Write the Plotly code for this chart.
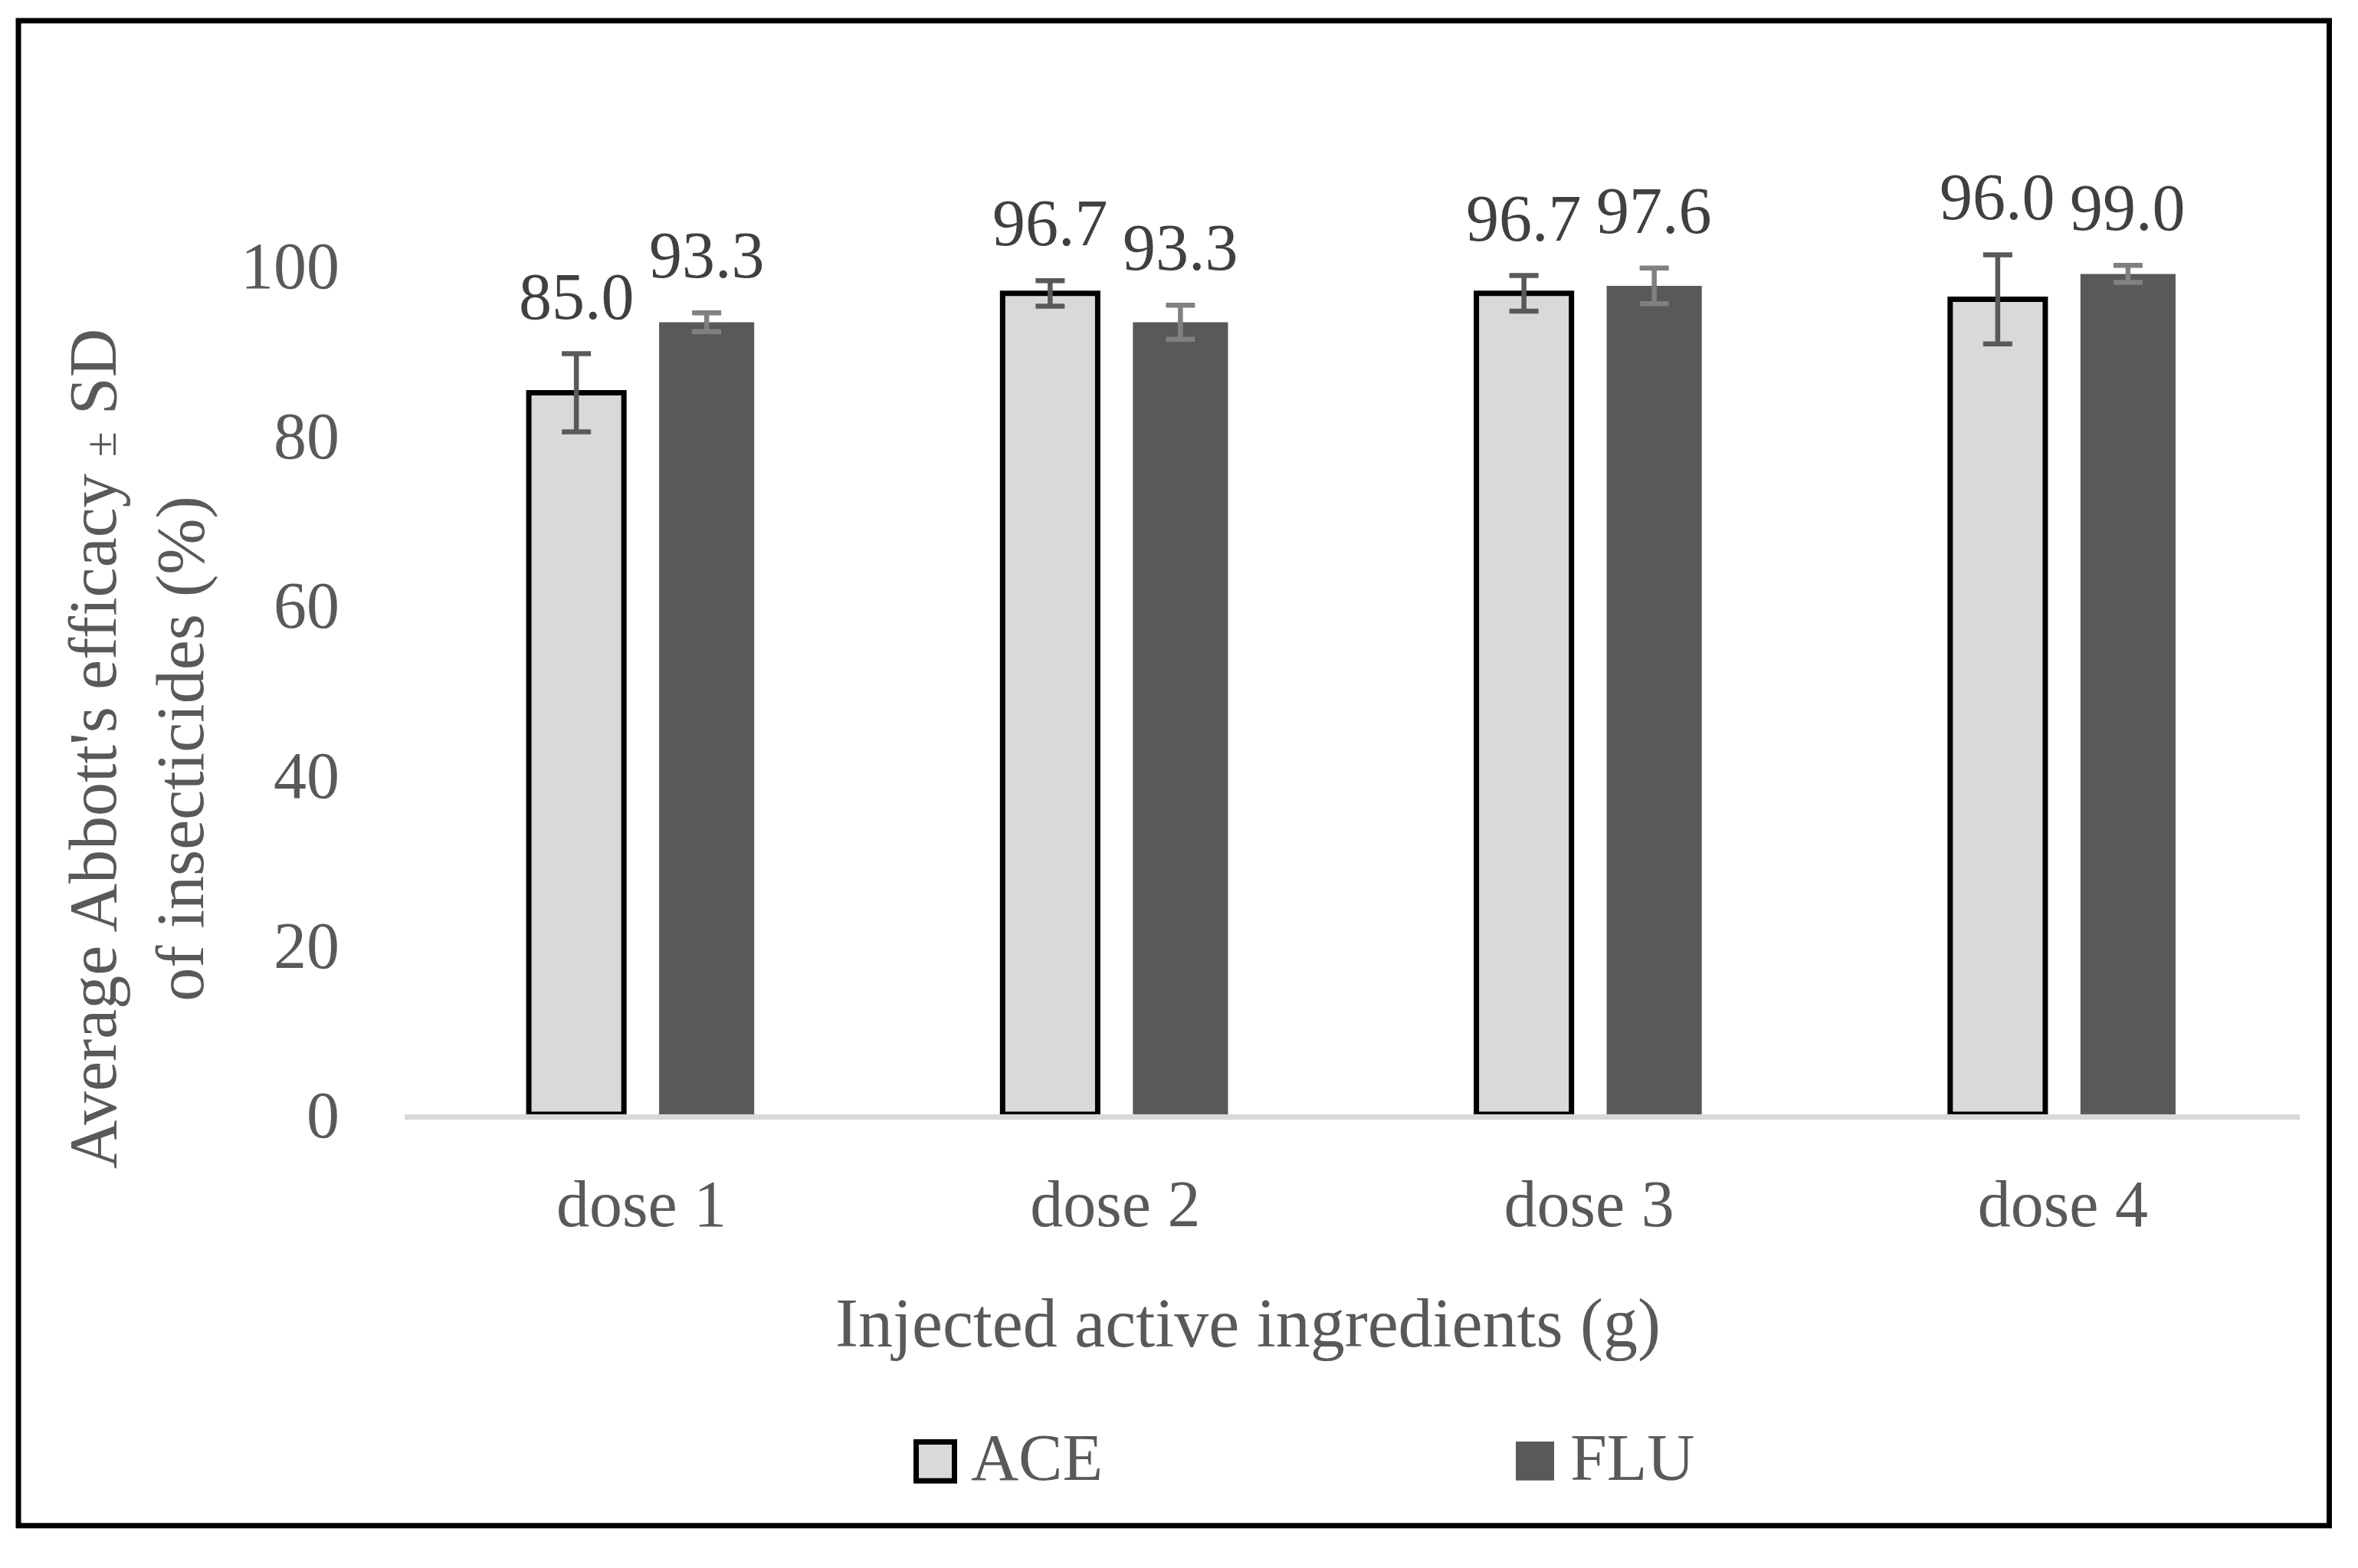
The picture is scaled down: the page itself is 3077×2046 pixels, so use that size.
import plotly.graph_objects as go

# ---- data ----
categories = ["dose 1", "dose 2", "dose 3", "dose 4"]
series_names = ["ACE", "FLU"]
ace_values = [85.0, 96.7, 96.7, 96.0]
flu_values = [93.3, 93.3, 97.6, 99.0]
ace_sd = [4.6, 1.5, 2.1, 5.25]
flu_sd = [1.1, 2.0, 2.1, 1.0]
y_ticks = [0, 20, 40, 60, 80, 100]
x_title = "Injected active ingredients (g)"
y_title_lines = ["Average Abbott's efficacy ± SD", "of insecticides (%)"]

# ---- layout geometry (pixels) ----
W, H = 3077, 2046
Y_MAX = 104
PX_PER_UNIT = 11.08
L, R, B = 528, 3001, 1454
T = B - PX_PER_UNIT * Y_MAX
FONT = "Liberation Serif"
TXT = "#595959"
LBL = "#404040"


def px_x(x):
    return (x - L) / (R - L)


def px_y(y):
    return (B - y) / (B - T)


fig = go.Figure()
fig.add_trace(go.Bar(
    name=series_names[0], x=categories, y=ace_values,
    marker=dict(color="#d9d9d9", line=dict(color="black", width=7)),
    error_y=dict(type="data", array=ace_sd, visible=True, color="#595959",
                 thickness=6.5, width=19),
    cliponaxis=False, showlegend=False,
))
fig.add_trace(go.Bar(
    name=series_names[1], x=categories, y=flu_values,
    marker=dict(color="#595959", line=dict(width=0)),
    error_y=dict(type="data", array=flu_sd, visible=True, color="#808080",
                 thickness=6.5, width=19),
    cliponaxis=False, showlegend=False,
))

annotations = []
# data labels above the error bars
for vals, sds, shift in ((ace_values, ace_sd, -85), (flu_values, flu_sd, 85)):
    for c, v, s in zip(categories, vals, sds):
        annotations.append(dict(
            x=c, y=v + s, xref="x", yref="y", text=f"{v:.1f}",
            showarrow=False, xanchor="center", yanchor="bottom",
            xshift=shift, yshift=25,
            font=dict(family=FONT, size=86, color=LBL),
        ))

# axis titles
annotations.append(dict(
    x=px_x(1628), y=px_y(1727), xref="paper", yref="paper", text=x_title,
    showarrow=False, xanchor="center", yanchor="middle",
    font=dict(family=FONT, size=90, color=TXT),
))
y_title = (y_title_lines[0].replace("±", "<span style='font-size:60px'>±</span>")
           + "<br>" + y_title_lines[1])
annotations.append(dict(
    x=px_x(178), y=px_y(977), xref="paper", yref="paper", text=y_title,
    showarrow=False, xanchor="center", yanchor="middle", textangle=-90,
    font=dict(family=FONT, size=88, color=TXT),
))

# outer border and legend
shapes = [
    dict(type="rect", xref="paper", yref="paper",
         x0=px_x(24), x1=px_x(3039.5), y0=px_y(1991), y1=px_y(26.5),
         line=dict(color="black", width=7), fillcolor="rgba(0,0,0,0)", layer="above"),
    dict(type="rect", xref="paper", yref="paper",
         x0=px_x(1195.5), x1=px_x(1245.5), y0=px_y(1932.5), y1=px_y(1881.5),
         line=dict(color="black", width=7), fillcolor="#d9d9d9"),
    dict(type="rect", xref="paper", yref="paper",
         x0=px_x(1978), x1=px_x(2028), y0=px_y(1932), y1=px_y(1881),
         line=dict(width=0), fillcolor="#595959"),
]
for name, xl in zip(series_names, (1265, 2047)):
    annotations.append(dict(
        x=px_x(xl), y=px_y(1902), xref="paper", yref="paper", text=name,
        showarrow=False, xanchor="left", yanchor="middle",
        font=dict(family=FONT, size=86, color=TXT),
    ))

fig.update_layout(
    width=W, height=H,
    margin=dict(l=L, r=W - R, t=T, b=H - B, pad=0),
    paper_bgcolor="white", plot_bgcolor="white",
    barmode="group", bargap=0.45, bargroupgap=0.27,
    font=dict(family=FONT, size=86, color=TXT),
    xaxis=dict(showline=True, linecolor="#d9d9d9", linewidth=7, showgrid=False,
               zeroline=False, ticks="", ticklabelstandoff=36,
               tickfont=dict(family=FONT, size=86, color=TXT)),
    yaxis=dict(range=[0, Y_MAX], tickvals=y_ticks, showgrid=False, zeroline=False,
               showline=False, ticks="", ticklabelstandoff=84,
               tickfont=dict(family=FONT, size=86, color=TXT)),
    annotations=annotations, shapes=shapes,
)

fig.write_html("out.html", config={"displayModeBar": False},
               post_script="document.body.style.margin='0';document.body.style.overflow='hidden';")
